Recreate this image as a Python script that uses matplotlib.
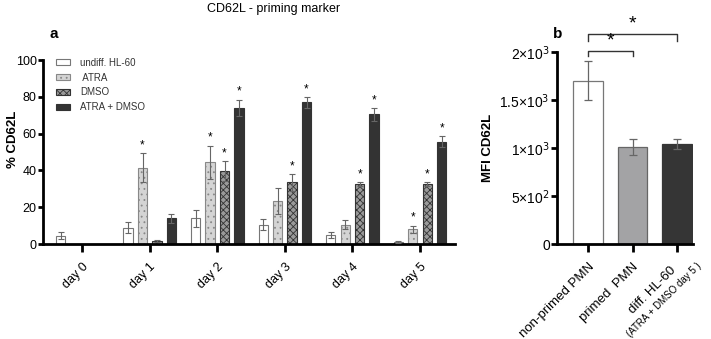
import matplotlib
matplotlib.use("Agg")
import matplotlib.pyplot as plt
import matplotlib.transforms as mtransforms
import numpy as np
from matplotlib.patches import Patch

plt.rcParams['font.family'] = ['Liberation Sans', 'DejaVu Sans']
plt.rcParams['hatch.linewidth'] = 0.6

days = ["day 0", "day 1", "day 2", "day 3", "day 4", "day 5"]
series_names = ["undiff. HL-60", " ATRA", "DMSO", "ATRA + DMSO"]
undiff = [4.5, 9, 14, 10.5, 5, 1]
undiff_err = [2, 3, 4.5, 3, 1.5, 0.5]
atra = [0, 41.5, 44.5, 23.5, 10.5, 8]
atra_err = [0, 8, 9, 7, 2.5, 2]
dmso = [0, 1.5, 39.5, 33.5, 32.5, 32.5]
dmso_err = [0, 0.5, 5.5, 4.5, 1, 1]
atra_dmso = [0, 14, 74, 77, 70.5, 55.5]
atra_dmso_err = [0, 2.5, 4.5, 3, 3.5, 3]
# significance flags per series per day
sig_atra = [0, 1, 1, 0, 0, 1]
sig_dmso = [0, 0, 1, 1, 1, 1]
sig_ad = [0, 0, 1, 1, 1, 1]
sig_undiff = [0, 0, 0, 0, 0, 0]

b_cats = ["non-primed PMN", "primed  PMN", "diff. HL-60"]
b_sub = "(ATRA + DMSO day 5 )"
b_vals = [1700, 1010, 1040]
b_err = [200, 80, 50]
b_ticks = [0, 500, 1000, 1500, 2000]
b_ticklabels = ["0", "5×10$^2$", "1×10$^3$", "1.5×10$^3$", "2×10$^3$"]

fig = plt.figure(figsize=(7.11, 3.39), dpi=100)
axa = fig.add_axes([0.0605, 0.28, 0.5795, 0.543])
axb = fig.add_axes([0.783, 0.28, 0.192, 0.567])

x = np.arange(len(days))
w = 0.135
step = 0.214
styles = [
    dict(facecolor="white", edgecolor="#777777", hatch=None),
    dict(facecolor="#d4d4d4", edgecolor="#888888", hatch="..."),
    dict(facecolor="#9a9a9a", edgecolor="#333333", hatch="xxxxx"),
    dict(facecolor="#333333", edgecolor="#333333", hatch=None),
]
data = [(undiff, undiff_err, sig_undiff), (atra, atra_err, sig_atra),
        (dmso, dmso_err, sig_dmso), (atra_dmso, atra_dmso_err, sig_ad)]
handles = []
for i, ((vals, errs, sig), st) in enumerate(zip(data, styles)):
    pos = x + (i - 1.5) * step
    vals = np.array(vals, float)
    errs = np.array(errs, float)
    mask = vals > 0
    axa.bar(pos[mask], vals[mask], w, facecolor=st["facecolor"], edgecolor=st["edgecolor"],
            hatch=st["hatch"], linewidth=0.8, zorder=2)
    axa.errorbar(pos[mask], vals[mask], yerr=errs[mask], fmt="none", ecolor="#666666",
                 elinewidth=0.8, capsize=2, capthick=0.8, zorder=3)
    for p, v, e, s in zip(pos, vals, errs, sig):
        if s:
            axa.text(p, v + e + 1.0, "*", ha="center", va="bottom", fontsize=8.5)
    handles.append(Patch(facecolor=st["facecolor"], edgecolor=st["edgecolor"],
                         hatch=st["hatch"], linewidth=0.8, label=series_names[i]))

axa.set_xlim(-0.58, 5.52)
axa.set_ylim(0, 100)
axa.set_yticks([0, 20, 40, 60, 80, 100])
axa.set_xticks(x)
axa.set_xticklabels(days, rotation=45, ha="right", rotation_mode="anchor", fontsize=9)
axa.tick_params(axis="x", length=6, width=2, pad=6)
axa.tick_params(axis="y", length=3.5, width=2, labelsize=9, pad=1)
for s in ["top", "right"]:
    axa.spines[s].set_visible(False)
for s in ["left", "bottom"]:
    axa.spines[s].set_linewidth(2)
axa.set_ylabel("% CD62L", fontsize=9.5, fontweight="bold")
axa.yaxis.set_label_coords(-0.058, 0.57)
leg = axa.legend(handles=handles, loc="upper left", bbox_to_anchor=(0.01, 1.06), frameon=False,
                 fontsize=7, handlelength=1.5, handleheight=0.55, labelspacing=0.5, handletextpad=1.0)
for t in leg.get_texts():
    t.set_color("#333333")

# panel b
xb = np.arange(len(b_cats))
b_colors = ["white", "#a3a3a5", "#353535"]
b_edges = ["#777777", "#666666", "#353535"]
axb.bar(xb, b_vals, 0.67, color=b_colors, edgecolor=b_edges, linewidth=0.9, zorder=2)
axb.errorbar(xb, b_vals, yerr=b_err, fmt="none", ecolor="#666666", elinewidth=0.9,
             capsize=3, capthick=0.9, zorder=3)
axb.set_xlim(-0.7, 2.36)
axb.set_ylim(0, 2000)
axb.set_yticks(b_ticks)
axb.set_yticklabels(b_ticklabels, fontsize=10)
axb.set_xticks(xb)
axb.set_xticklabels([b_cats[0], b_cats[1], ""], rotation=45, ha="right",
                    rotation_mode="anchor", fontsize=9.5)
axb.tick_params(axis="x", length=6, width=2, pad=6)
axb.tick_params(axis="y", length=4, width=2, pad=1)
for s in ["top", "right"]:
    axb.spines[s].set_visible(False)
for s in ["left", "bottom"]:
    axb.spines[s].set_linewidth(2)
axb.set_ylabel("MFI CD62L", fontsize=9.5, fontweight="bold", labelpad=4)

# two-line label for third category (offsets in pixels from tick base)
def off(dx, dy):
    return axb.get_xaxis_transform() + mtransforms.ScaledTranslation(dx / 100, -dy / 100, fig.dpi_scale_trans)

axb.text(2, 0, b_cats[2], rotation=45, ha="center", va="center", rotation_mode="anchor",
         fontsize=9.5, transform=off(-25, 46))
axb.text(2, 0, b_sub, rotation=45, ha="center", va="center", rotation_mode="anchor",
         fontsize=7, transform=off(-13, 56))

# significance brackets
def bracket(ax, x1, x2, y, h):
    ax.plot([x1, x1, x2, x2], [y - h, y, y, y - h], color="#333333", lw=1, clip_on=False)
    ax.text((x1 + x2) / 2, y + 10, "*", ha="center", va="bottom", fontsize=14, clip_on=False)

bracket(axb, 0, 1, 2010, 55)
bracket(axb, 0, 2, 2190, 80)

fig.text(0.385, 0.99, "CD62L - priming marker", ha="center", va="top", fontsize=9)
fig.text(0.07, 0.9, "a", fontsize=11, fontweight="bold", va="center")
fig.text(0.778, 0.9, "b", fontsize=11, fontweight="bold", va="center")

fig.savefig("out.png", dpi=100)
